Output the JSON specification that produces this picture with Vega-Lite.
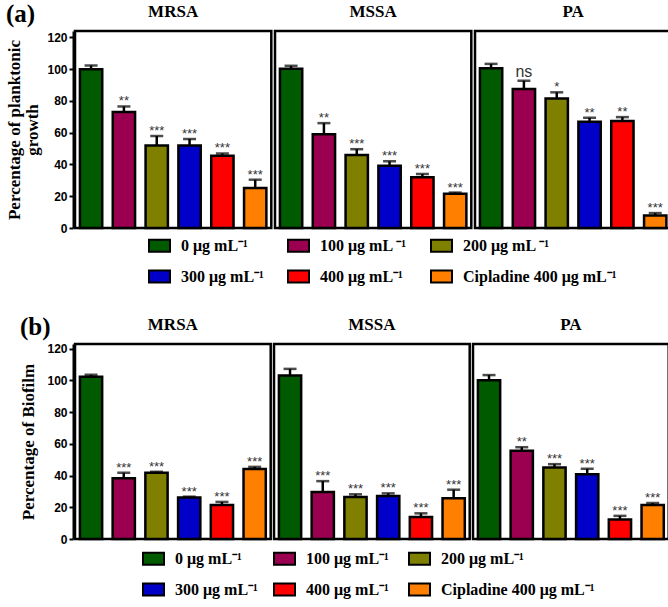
{
  "$schema": "https://vega.github.io/schema/vega-lite/v6.json",
  "padding": {"top": 2, "left": 5, "right": 2, "bottom": 2},
  "background": "white",
  "datasets": {
    "a": [
      {"org": "MRSA", "c": "0 μg mL⁻¹", "v": 100, "hi": 102.3, "sig": ""},
      {"org": "MRSA", "c": "100 μg mL ⁻¹", "v": 73, "hi": 76.5, "sig": "**"},
      {"org": "MRSA", "c": "200 μg mL ⁻¹", "v": 52, "hi": 57.9, "sig": "***"},
      {"org": "MRSA", "c": "300 μg mL⁻¹", "v": 52, "hi": 56, "sig": "***"},
      {"org": "MRSA", "c": "400  μg mL⁻¹", "v": 45.4, "hi": 46.9, "sig": "***"},
      {"org": "MRSA", "c": "Cipladine 400 μg mL⁻¹", "v": 25.2, "hi": 30.4, "sig": "***"},
      {"org": "MSSA", "c": "0 μg mL⁻¹", "v": 100.2, "hi": 102.1, "sig": ""},
      {"org": "MSSA", "c": "100 μg mL ⁻¹", "v": 59, "hi": 66, "sig": "**"},
      {"org": "MSSA", "c": "200 μg mL ⁻¹", "v": 46, "hi": 49.6, "sig": "***"},
      {"org": "MSSA", "c": "300 μg mL⁻¹", "v": 39.2, "hi": 42, "sig": "***"},
      {"org": "MSSA", "c": "400  μg mL⁻¹", "v": 31.9, "hi": 34, "sig": "***"},
      {"org": "MSSA", "c": "Cipladine 400 μg mL⁻¹", "v": 21.5, "hi": 22.3, "sig": "***"},
      {"org": "PA", "c": "0 μg mL⁻¹", "v": 100.6, "hi": 103.3, "sig": ""},
      {"org": "PA", "c": "100 μg mL ⁻¹", "v": 87.5, "hi": 92.7, "sig": "ns"},
      {"org": "PA", "c": "200 μg mL ⁻¹", "v": 81.5, "hi": 85.4, "sig": "*"},
      {"org": "PA", "c": "300 μg mL⁻¹", "v": 66.9, "hi": 69.4, "sig": "**"},
      {"org": "PA", "c": "400  μg mL⁻¹", "v": 67.3, "hi": 69.8, "sig": "**"},
      {"org": "PA", "c": "Cipladine 400 μg mL⁻¹", "v": 7.9, "hi": 9.4, "sig": "***"}
    ],
    "b": [
      {"org": "MRSA", "c": "0 μg mL⁻¹", "v": 102.3, "hi": 103.6, "sig": ""},
      {"org": "MRSA", "c": "100 μg mL⁻¹", "v": 38.3, "hi": 41.8, "sig": "***"},
      {"org": "MRSA", "c": "200 μg mL⁻¹", "v": 41.8, "hi": 42.4, "sig": "***"},
      {"org": "MRSA", "c": "300 μg mL⁻¹", "v": 26.1, "hi": 26.7, "sig": "***"},
      {"org": "MRSA", "c": "400  μg mL⁻¹", "v": 21.5, "hi": 23.4, "sig": "***"},
      {"org": "MRSA", "c": "Cipladine 400 μg mL⁻¹", "v": 44.1, "hi": 45.5, "sig": "***"},
      {"org": "MSSA", "c": "0 μg mL⁻¹", "v": 103.1, "hi": 107.3, "sig": ""},
      {"org": "MSSA", "c": "100 μg mL⁻¹", "v": 29.6, "hi": 36.5, "sig": "***"},
      {"org": "MSSA", "c": "200 μg mL⁻¹", "v": 26.5, "hi": 28.2, "sig": "***"},
      {"org": "MSSA", "c": "300 μg mL⁻¹", "v": 27.1, "hi": 28.8, "sig": "***"},
      {"org": "MSSA", "c": "400  μg mL⁻¹", "v": 13.9, "hi": 16.2, "sig": "***"},
      {"org": "MSSA", "c": "Cipladine 400 μg mL⁻¹", "v": 25.7, "hi": 31.1, "sig": "***"},
      {"org": "PA", "c": "0 μg mL⁻¹", "v": 100.2, "hi": 103.4, "sig": ""},
      {"org": "PA", "c": "100 μg mL⁻¹", "v": 55.6, "hi": 57.9, "sig": "**"},
      {"org": "PA", "c": "200 μg mL⁻¹", "v": 45.1, "hi": 47.2, "sig": "***"},
      {"org": "PA", "c": "300 μg mL⁻¹", "v": 40.9, "hi": 44.3, "sig": "***"},
      {"org": "PA", "c": "400  μg mL⁻¹", "v": 12.3, "hi": 14.6, "sig": "***"},
      {"org": "PA", "c": "Cipladine 400 μg mL⁻¹", "v": 21.5, "hi": 22.7, "sig": "***"}
    ]
  },
  "vconcat": [
    {
      "data": {"name": "a"},
      "title": {"text": "(a)", "anchor": "start", "frame": "bounds", "offset": -24, "font": "Liberation Serif", "fontSize": 25, "fontWeight": "bold", "color": "black"},
      "facet": {"column": {"field": "org", "type": "nominal", "sort": ["MRSA", "MSSA", "PA"], "title": null,
        "header": {"labelFont": "Liberation Serif", "labelFontSize": 17, "labelFontWeight": "bold", "labelColor": "black", "labelPadding": 8}}},
      "spacing": 0,
      "spec": {
        "width": 196.3,
        "height": 197,
        "encoding": {
          "x": {"field": "c", "type": "nominal", "axis": null,
            "sort": ["0 μg mL⁻¹", "100 μg mL ⁻¹", "200 μg mL ⁻¹", "300 μg mL⁻¹", "400  μg mL⁻¹", "Cipladine 400 μg mL⁻¹"],
            "scale": {"paddingInner": 0.32, "paddingOuter": 0.15}},
          "y": {"field": "v", "type": "quantitative",
            "scale": {"domain": [0, 124], "nice": false},
            "axis": {"values": [0, 20, 40, 60, 80, 100, 120], "labelOverlap": false, "titlePadding": 5, "title": ["Percentage of planktonic", "growth"]}}
        },
        "layer": [
          {
            "mark": {"type": "rule", "color": "black", "strokeWidth": 2.5},
            "encoding": {"y2": {"field": "hi"}}
          },
          {
            "mark": {"type": "tick", "color": "black", "thickness": 2.5, "size": 13},
            "encoding": {"y": {"field": "hi", "type": "quantitative"}}
          },
          {
            "mark": {"type": "bar", "stroke": "black", "strokeWidth": 2.5},
            "encoding": {
              "color": {"field": "c", "type": "nominal",
                "scale": {"domain": ["0 μg mL⁻¹", "100 μg mL ⁻¹", "200 μg mL ⁻¹", "300 μg mL⁻¹", "400  μg mL⁻¹", "Cipladine 400 μg mL⁻¹"],
                  "range": ["#005a00", "#9b0050", "#808000", "#0000c8", "#ff0000", "#ff8000"]},
                "legend": {"orient": "none", "legendX": 73, "legendY": 203, "columnPadding": 20, "rowPadding": 9}}
            }
          },
          {
            "transform": [{"filter": "datum.sig !== 'ns'"}],
            "mark": {"type": "text", "baseline": "alphabetic", "dy": -1, "font": "Liberation Sans", "fontSize": 13, "color": "#333333"},
            "encoding": {"y": {"field": "hi", "type": "quantitative"}, "text": {"field": "sig"}}
          },
          {
            "transform": [{"filter": "datum.sig === 'ns'"}],
            "mark": {"type": "text", "baseline": "alphabetic", "dy": -4, "font": "Liberation Sans", "fontSize": 16, "color": "#333333"},
            "encoding": {"y": {"field": "hi", "type": "quantitative"}, "text": {"field": "sig"}}
          }
        ]
      }
    },
    {
      "data": {"name": "b"},
      "title": {"text": "(b)", "anchor": "start", "frame": "bounds", "offset": -24, "font": "Liberation Serif", "fontSize": 25, "fontWeight": "bold", "color": "black"},
      "facet": {"column": {"field": "org", "type": "nominal", "sort": ["MRSA", "MSSA", "PA"], "title": null,
        "header": {"labelFont": "Liberation Serif", "labelFontSize": 17, "labelFontWeight": "bold", "labelColor": "black", "labelPadding": 8}}},
      "spacing": 0,
      "spec": {
        "width": 195.7,
        "height": 195,
        "encoding": {
          "x": {"field": "c", "type": "nominal", "axis": null,
            "sort": ["0 μg mL⁻¹", "100 μg mL⁻¹", "200 μg mL⁻¹", "300 μg mL⁻¹", "400  μg mL⁻¹", "Cipladine 400 μg mL⁻¹"],
            "scale": {"paddingInner": 0.32, "paddingOuter": 0.15}},
          "y": {"field": "v", "type": "quantitative",
            "scale": {"domain": [0, 123], "nice": false},
            "axis": {"values": [0, 20, 40, 60, 80, 100, 120], "labelOverlap": false, "titlePadding": 9, "title": "Percentage of Biofilm"}}
        },
        "layer": [
          {
            "mark": {"type": "rule", "color": "black", "strokeWidth": 2.5},
            "encoding": {"y2": {"field": "hi"}}
          },
          {
            "mark": {"type": "tick", "color": "black", "thickness": 2.5, "size": 13},
            "encoding": {"y": {"field": "hi", "type": "quantitative"}}
          },
          {
            "mark": {"type": "bar", "stroke": "black", "strokeWidth": 2.5},
            "encoding": {
              "color": {"field": "c", "type": "nominal",
                "scale": {"domain": ["0 μg mL⁻¹", "100 μg mL⁻¹", "200 μg mL⁻¹", "300 μg mL⁻¹", "400  μg mL⁻¹", "Cipladine 400 μg mL⁻¹"],
                  "range": ["#005a00", "#9b0050", "#808000", "#0000c8", "#ff0000", "#ff8000"]},
                "legend": {"orient": "none", "legendX": 67, "legendY": 203, "columnPadding": 12, "rowPadding": 9}}
            }
          },
          {
            "transform": [{"filter": "datum.sig !== 'ns'"}],
            "mark": {"type": "text", "baseline": "alphabetic", "dy": -1, "font": "Liberation Sans", "fontSize": 13, "color": "#333333"},
            "encoding": {"y": {"field": "hi", "type": "quantitative"}, "text": {"field": "sig"}}
          }
        ]
      }
    }
  ],
  "spacing": 28,
  "resolve": {"scale": {"color": "independent"}, "legend": {"color": "independent"}},
  "config": {
    "view": {"stroke": "black", "strokeWidth": 2.5},
    "axis": {
      "grid": false,
      "domainColor": "black", "domainWidth": 2,
      "tickColor": "black", "tickWidth": 2, "tickSize": 4,
      "labelFont": "Liberation Sans", "labelFontSize": 12, "labelFontWeight": "bold", "labelColor": "black", "labelPadding": 2,
      "titleFont": "Liberation Serif", "titleFontSize": 17, "titleFontWeight": "bold", "titleColor": "black", "titlePadding": 9, "titleLineHeight": 18
    },
    "legend": {
      "direction": "horizontal",
      "columns": 3,
      "title": null,
      "symbolType": "M-1,-0.57H1V0.57H-1Z",
      "symbolSize": 441,
      "symbolStrokeColor": "black",
      "symbolStrokeWidth": 2,
      "symbolOpacity": 1,
      "labelFont": "Liberation Serif",
      "labelFontSize": 16,
      "labelFontWeight": "bold",
      "labelColor": "black",
      "labelOffset": 10,
      "labelLimit": 300
    }
  }
}
